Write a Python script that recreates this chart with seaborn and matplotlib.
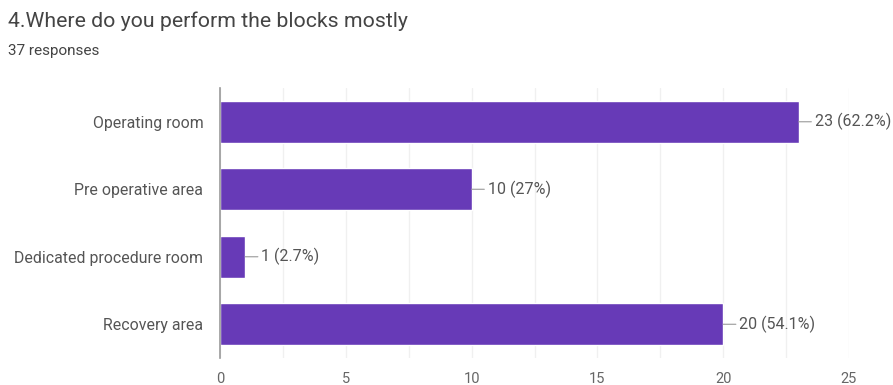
import matplotlib
matplotlib.use("Agg")
import matplotlib.pyplot as plt
import seaborn as sns
import pandas as pd
from matplotlib.ticker import MultipleLocator

# Survey answers
categories = ["Operating room", "Pre operative area", "Dedicated procedure room", "Recovery area"]
counts = [23, 10, 1, 20]
percents = ["62.2%", "27%", "2.7%", "54.1%"]
xticks = [0, 5, 10, 15, 20, 25]
title = "4.Where do you perform the blocks mostly"
subtitle = "37 responses"

BAR_COLOR = "#673ab7"
TEXT_COLOR = "#555555"
TICK_COLOR = "#666666"
GRID_COLOR = "#f0f0f0"

sns.set_theme(style="white")
plt.rcParams["font.family"] = ["Roboto", "DejaVu Sans"]

df = pd.DataFrame({"category": categories, "count": counts})

fig = plt.figure(figsize=(8.93, 3.85), dpi=100)
ax = fig.add_axes([0.2464, 0.0701, 0.7043, 0.7013])

sns.barplot(data=df, y="category", x="count", orient="h", color=BAR_COLOR,
            saturation=1, width=0.62, ax=ax)

ax.set_xlim(0, 25)
ax.set_ylim(3.5, -0.5)
ax.set_xticks(xticks)
ax.xaxis.set_minor_locator(MultipleLocator(2.5))
ax.grid(True, axis="x", which="both", color=GRID_COLOR, linewidth=1)
ax.set_axisbelow(True)
ax.set_xlabel("")
ax.set_ylabel("")
for side in ["top", "right", "bottom"]:
    ax.spines[side].set_visible(False)
ax.spines["left"].set_color("#999999")
ax.spines["left"].set_linewidth(1.2)
ax.tick_params(axis="both", length=0)
ax.tick_params(axis="y", pad=12, labelsize=11.4, labelcolor=TEXT_COLOR)
ax.tick_params(axis="x", pad=10, labelsize=10.5, labelcolor=TICK_COLOR)

# Value labels with a short leader line
for i, (c, p) in enumerate(zip(counts, percents)):
    ax.annotate(f"{c} ({p})", xy=(c, i), xytext=(11.5, 0), textcoords="offset points",
                va="center", ha="left", fontsize=11.5, color=TEXT_COLOR,
                arrowprops=dict(arrowstyle="-", color="#999999", lw=0.8,
                                shrinkA=0, shrinkB=0))

fig.text(0.009, 0.945, title, fontsize=15.3, color="#444444", va="center", ha="left")
fig.text(0.009, 0.868, subtitle, fontsize=11, color="#444444", va="center", ha="left")

fig.savefig("out.png", dpi=100, facecolor="white")
